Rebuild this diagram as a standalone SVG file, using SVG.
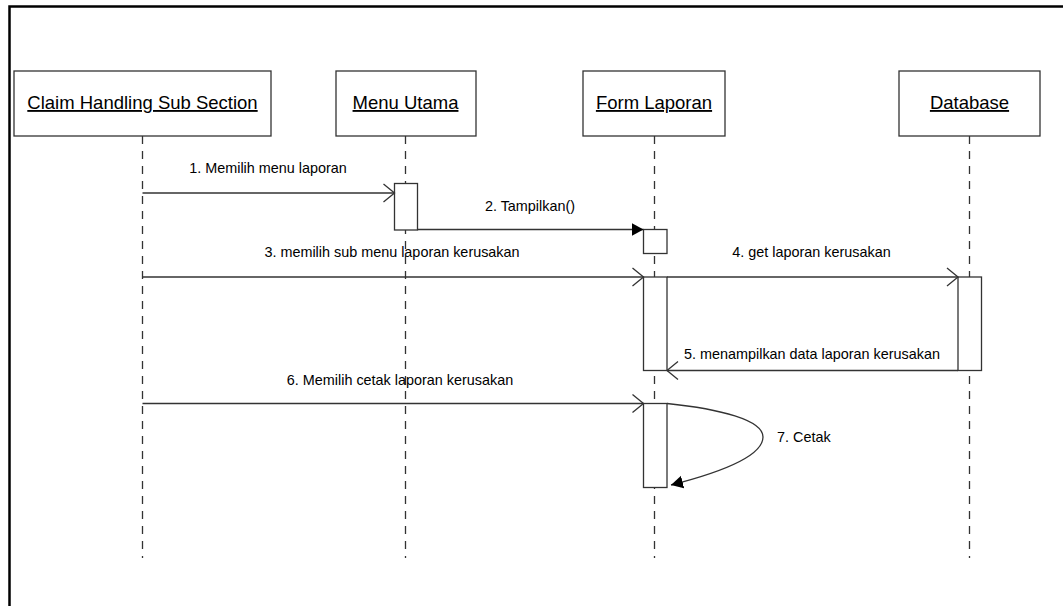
<svg xmlns="http://www.w3.org/2000/svg" width="1063" height="606" viewBox="0 0 1063 606">
<style>
.box{fill:#fff;stroke:#333;stroke-width:1.3}
.act{fill:#fff;stroke:#333;stroke-width:1.3}
.life{stroke:#333;stroke-width:1.3;stroke-dasharray:8 7;fill:none}
.msg{stroke:#333;stroke-width:1.3;fill:none}
.hd{font-family:"Liberation Sans",Arial,sans-serif;font-size:18.5px;fill:#000;text-anchor:middle;text-decoration:underline}
.lb{font-family:"Liberation Sans",Arial,sans-serif;font-size:14.4px;fill:#000}
</style>
<defs>
<marker id="open" markerWidth="14" markerHeight="20" refX="12" refY="10" orient="auto" markerUnits="userSpaceOnUse"><path d="M1,1 L12,10 L1,19" fill="none" stroke="#333" stroke-width="1.3"/></marker>
<marker id="filled" markerWidth="13" markerHeight="14" refX="12" refY="7" orient="auto" markerUnits="userSpaceOnUse"><path d="M0,0.5 L12,7 L0,13.5Z" fill="#000"/></marker>
</defs>
<rect width="1063" height="606" fill="#fff"/>
<path d="M9.5,606 V6.5 H1063" fill="none" stroke="#000" stroke-width="2.5"/>
<g id="lifelines">
<line class="life" x1="142.5" y1="136" x2="142.5" y2="558"/>
<line class="life" x1="405.5" y1="136" x2="405.5" y2="558"/>
<line class="life" x1="654.5" y1="136" x2="654.5" y2="558"/>
<line class="life" x1="969.5" y1="136" x2="969.5" y2="558"/>
</g>
<g id="claim"><rect class="box" x="14" y="71" width="257" height="65"/><text class="hd" x="142.5" y="109">Claim Handling Sub Section</text></g>
<g id="menu"><rect class="box" x="336" y="71" width="140" height="65"/><text class="hd" x="405.5" y="109">Menu Utama</text></g>
<g id="form"><rect class="box" x="583" y="71" width="142" height="65"/><text class="hd" x="654" y="109">Form Laporan</text></g>
<g id="database"><rect class="box" x="899" y="71" width="141" height="65"/><text class="hd" x="969.5" y="109">Database</text></g>
<g id="activations">
<rect class="act" x="394.5" y="183.5" width="23" height="46.5"/>
<rect class="act" x="643.5" y="229.5" width="23.5" height="24"/>
<rect class="act" x="643.5" y="277" width="23.5" height="93.5"/>
<rect class="act" x="958" y="277" width="23.5" height="93.5"/>
<rect class="act" x="643.5" y="403.5" width="23.5" height="84"/>
</g>
<g id="connectors">
<line class="msg" x1="142.5" y1="193" x2="394.5" y2="193" marker-end="url(#open)"/>
<line class="msg" x1="417.5" y1="229.5" x2="643.5" y2="229.5" marker-end="url(#filled)"/>
<line class="msg" x1="142.5" y1="277" x2="643.5" y2="277" marker-end="url(#open)"/>
<line class="msg" x1="667" y1="277" x2="958" y2="277" marker-end="url(#open)"/>
<line class="msg" x1="958" y1="370.5" x2="667" y2="370.5" marker-end="url(#open)"/>
<line class="msg" x1="142.5" y1="403.5" x2="643.5" y2="403.5" marker-end="url(#open)"/>
<path class="msg" d="M667,403.5 C720,409 763,420 763,437 C763,456 722,472 671,485" marker-end="url(#filled)"/>
</g>
<g id="labels">
<text class="lb" x="268" y="173" text-anchor="middle">1. Memilih menu laporan</text>
<text class="lb" x="530" y="211" text-anchor="middle">2. Tampilkan()</text>
<text class="lb" x="392" y="257" text-anchor="middle">3. memilih sub menu laporan kerusakan</text>
<text class="lb" x="811.5" y="257" text-anchor="middle">4. get laporan kerusakan</text>
<text class="lb" x="812" y="359" text-anchor="middle">5. menampilkan data laporan kerusakan</text>
<text class="lb" x="400" y="385" text-anchor="middle">6. Memilih cetak laporan kerusakan</text>
<text class="lb" x="777" y="442">7. Cetak</text>
</g>
</svg>
